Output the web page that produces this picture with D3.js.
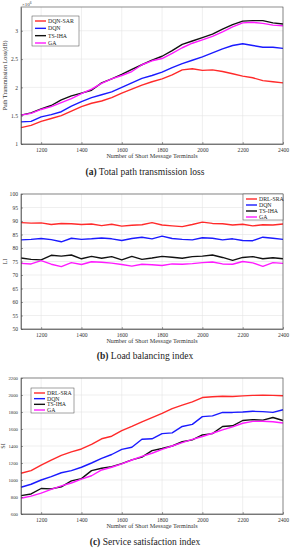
<!DOCTYPE html>
<html>
<head>
<meta charset="utf-8">
<script src="https://cdn.jsdelivr.net/npm/d3@7"></script>
<style>
  body { margin: 0; background: #fff; }
  svg { display: block; font-family: "Liberation Serif", "DejaVu Serif", serif; }
</style>
</head>
<body>
<svg id="fig" width="290" height="550"></svg>
<script>
const terminals = d3.range(1100, 2401, 50);
const xTicks = [1200, 1400, 1600, 1800, 2000, 2200, 2400];

// (a) total path transmission loss, x10^6
const lossSar = [1.29, 1.33, 1.40, 1.45, 1.50, 1.58, 1.66, 1.72, 1.76, 1.82, 1.90, 1.97, 2.04, 2.10, 2.15, 2.22, 2.31, 2.33, 2.30, 2.31, 2.28, 2.24, 2.20, 2.17, 2.12, 2.10, 2.08];
const lossDqn = [1.39, 1.40, 1.48, 1.52, 1.57, 1.67, 1.75, 1.82, 1.87, 1.92, 2.00, 2.08, 2.16, 2.21, 2.27, 2.35, 2.42, 2.48, 2.54, 2.61, 2.68, 2.74, 2.77, 2.74, 2.71, 2.71, 2.69];
const lossTs = [1.51, 1.55, 1.62, 1.68, 1.78, 1.85, 1.90, 1.95, 2.08, 2.15, 2.23, 2.32, 2.40, 2.48, 2.55, 2.65, 2.76, 2.82, 2.88, 2.94, 3.03, 3.11, 3.17, 3.18, 3.18, 3.14, 3.12];
const lossGa = [1.51, 1.54, 1.61, 1.66, 1.73, 1.80, 1.89, 1.97, 2.07, 2.15, 2.21, 2.28, 2.40, 2.47, 2.51, 2.60, 2.70, 2.78, 2.84, 2.90, 2.98, 3.07, 3.14, 3.15, 3.13, 3.10, 3.09];
const lossTicks = [1, 1.5, 2, 2.5, 3];

// (b) load balancing index
const liSra = [89.4, 89.2, 89.3, 88.7, 89.1, 89.0, 88.7, 88.9, 88.3, 88.8, 88.1, 88.4, 88.6, 89.4, 88.5, 88.2, 87.9, 88.7, 89.6, 89.1, 89.0, 88.5, 88.8, 88.2, 88.6, 88.5, 88.9];
const liDqn = [83.0, 83.2, 83.5, 83.1, 82.3, 83.6, 83.2, 83.4, 83.7, 83.4, 82.8, 83.5, 84.0, 83.4, 84.4, 83.5, 83.2, 83.0, 83.8, 83.6, 83.0, 83.4, 82.8, 82.7, 84.0, 83.6, 83.2];
const liTs = [76.3, 75.8, 75.6, 77.3, 77.0, 77.4, 76.0, 76.9, 76.2, 76.8, 75.6, 76.9, 75.8, 76.3, 76.9, 76.6, 76.2, 76.8, 77.0, 77.4, 76.5, 75.4, 76.5, 76.8, 76.0, 76.4, 76.0];
const liGa = [74.3, 74.1, 75.3, 74.0, 73.1, 74.6, 73.9, 74.9, 74.7, 74.4, 73.9, 73.3, 74.0, 73.8, 73.5, 74.1, 74.0, 74.2, 74.6, 74.8, 74.1, 74.0, 75.0, 74.5, 73.2, 74.6, 74.3];
const liTicks = d3.range(50, 101, 5);

// (c) service satisfaction index
const siSra = [1080, 1110, 1175, 1235, 1290, 1330, 1365, 1420, 1485, 1515, 1580, 1630, 1685, 1735, 1785, 1840, 1880, 1920, 1970, 1980, 1985, 1982, 1990, 1995, 1998, 1995, 1992];
const siDqn = [915, 950, 1000, 1040, 1085, 1110, 1150, 1200, 1255, 1300, 1360, 1385, 1480, 1485, 1545, 1555, 1630, 1655, 1745, 1755, 1795, 1795, 1800, 1808, 1805, 1795, 1826];
const siTs = [816, 836, 900, 895, 920, 990, 1016, 1110, 1138, 1158, 1192, 1237, 1270, 1345, 1370, 1400, 1450, 1472, 1530, 1545, 1630, 1638, 1700, 1710, 1705, 1735, 1700];
const siGa = [785, 810, 845, 890, 930, 965, 1010, 1050, 1118, 1150, 1190, 1235, 1278, 1315, 1360, 1400, 1440, 1478, 1512, 1550, 1590, 1625, 1668, 1690, 1692, 1685, 1670];
const siTicks = d3.range(600, 2201, 200);

const colors = ['#ff2a2a', '#1a1aff', '#111111', '#ff1aff'];

const svg = d3.select('#fig');

function panel(opt) {
  const g = svg.append('g');
  const x = d3.scaleLinear().domain([1100, 2400]).range([21, 283]);
  const y = d3.scaleLinear().domain(opt.yDomain).range([opt.bottom, opt.top]);

  // grid
  g.append('g').selectAll('line').data(xTicks).join('line')
    .attr('x1', d => x(d)).attr('x2', d => x(d))
    .attr('y1', opt.top).attr('y2', opt.bottom)
    .attr('stroke', '#e4e4e4').attr('stroke-width', 0.6);
  g.append('g').selectAll('line').data(opt.yTicks).join('line')
    .attr('x1', 21).attr('x2', 283)
    .attr('y1', d => y(d)).attr('y2', d => y(d))
    .attr('stroke', '#e4e4e4').attr('stroke-width', 0.6);

  // lines
  const line = d3.line().x((d, i) => x(terminals[i])).y(d => y(d));
  opt.series.forEach((s, i) => {
    g.append('path').datum(s).attr('d', line)
      .attr('fill', 'none').attr('stroke', colors[i]).attr('stroke-width', 1.4)
      .attr('stroke-linejoin', 'round');
  });

  // axes (MATLAB style box, inward ticks)
  const xAxis = d3.axisBottom(x).tickValues(xTicks).tickSizeInner(-2).tickSizeOuter(0)
    .tickPadding(4).tickFormat(d3.format('d'));
  const yAxis = d3.axisLeft(y).tickValues(opt.yTicks).tickSizeInner(-2).tickSizeOuter(0).tickPadding(3)
    .tickFormat(opt.yFormat || d3.format('d'));
  const gx = g.append('g').attr('transform', `translate(0,${opt.bottom})`).call(xAxis);
  const gy = g.append('g').attr('transform', 'translate(21,0)').call(yAxis);
  g.selectAll('.domain').attr('stroke', '#444').attr('stroke-width', 0.6);
  g.selectAll('.tick line').attr('stroke', '#444').attr('stroke-width', 0.5);
  g.selectAll('.tick text').attr('fill', '#333').attr('font-family', '"Liberation Serif", serif');
  gx.selectAll('.tick text').attr('font-size', 5.6);
  gy.selectAll('.tick text').attr('font-size', opt.yTickSize || 5.6);
  g.append('rect').attr('x', 21).attr('y', opt.top)
    .attr('width', 262).attr('height', opt.bottom - opt.top)
    .attr('fill', 'none').attr('stroke', '#444').attr('stroke-width', 0.6);

  // labels
  g.append('text').attr('x', 152).attr('y', opt.bottom + 14)
    .attr('text-anchor', 'middle').attr('font-size', 6.2).attr('fill', '#333')
    .text('Number of Short Message Terminals');
  g.append('text').attr('transform', `translate(${opt.yLabelX},${(opt.top + opt.bottom) / 2}) rotate(-90)`)
    .attr('text-anchor', 'middle').attr('font-size', 6.2).attr('fill', '#333')
    .text(opt.yLabel);
  const cap = g.append('text').attr('x', 145).attr('y', opt.bottom + opt.capGap)
    .attr('text-anchor', 'middle').attr('font-size', 9.5).attr('fill', '#222');
  cap.append('tspan').attr('font-weight', 'bold').text(opt.capTag);
  cap.append('tspan').text(' ' + opt.caption);

  // legend
  const L = opt.legend;
  g.append('rect').attr('x', L.x).attr('y', L.y).attr('width', L.w).attr('height', L.h)
    .attr('fill', '#fff').attr('stroke', '#444').attr('stroke-width', 0.5);
  opt.names.forEach((n, i) => {
    const yy = L.y + 5 + i * (L.h - 8) / 3;
    g.append('line').attr('x1', L.x + 3).attr('x2', L.x + 14).attr('y1', yy).attr('y2', yy)
      .attr('stroke', colors[i]).attr('stroke-width', 1.4);
    g.append('text').attr('x', L.x + 16).attr('y', yy + 2)
      .attr('font-size', 5.8).attr('fill', '#222').text(n);
  });
  return { g, x, y };
}

const pa = panel({
  top: 7, bottom: 144, yDomain: [1, 3.42], yTicks: lossTicks,
  yFormat: d => d3.format('~g')(d),
  series: [lossSar, lossDqn, lossTs, lossGa],
  names: ['DQN-SAR', 'DQN', 'TS-IHA', 'GA'],
  yLabel: 'Path Transmission Loss(dB)', yLabelX: 7,
  capTag: '(a)', caption: 'Total path transmission loss', capGap: 31,
  legend: { x: 32, y: 16, w: 47, h: 30 }
});
const exp = pa.g.append('text').attr('x', 22).attr('y', 6).attr('font-size', 5).attr('fill', '#333');
exp.append('tspan').text('\u00d710');
exp.append('tspan').attr('dy', -2).attr('font-size', 3.6).text('6');

panel({
  top: 194, bottom: 329, yDomain: [50, 100], yTicks: liTicks,
  series: [liSra, liDqn, liTs, liGa],
  names: ['DRL-SRA', 'DQN', 'TS-IHA', 'GA'],
  yLabel: 'LI', yLabelX: 7,
  capTag: '(b)', caption: 'Load balancing index', capGap: 30,
  legend: { x: 243, y: 194, w: 40, h: 26 }
});

panel({
  top: 378, bottom: 514, yDomain: [600, 2200], yTicks: siTicks, yTickSize: 4.8,
  series: [siSra, siDqn, siTs, siGa],
  names: ['DRL-SRA', 'DQN', 'TS-IHA', 'GA'],
  yLabel: 'SI', yLabelX: 5,
  capTag: '(c)', caption: 'Service satisfaction index', capGap: 31,
  legend: { x: 31, y: 388, w: 43, h: 25 }
});
</script>
</body>
</html>
